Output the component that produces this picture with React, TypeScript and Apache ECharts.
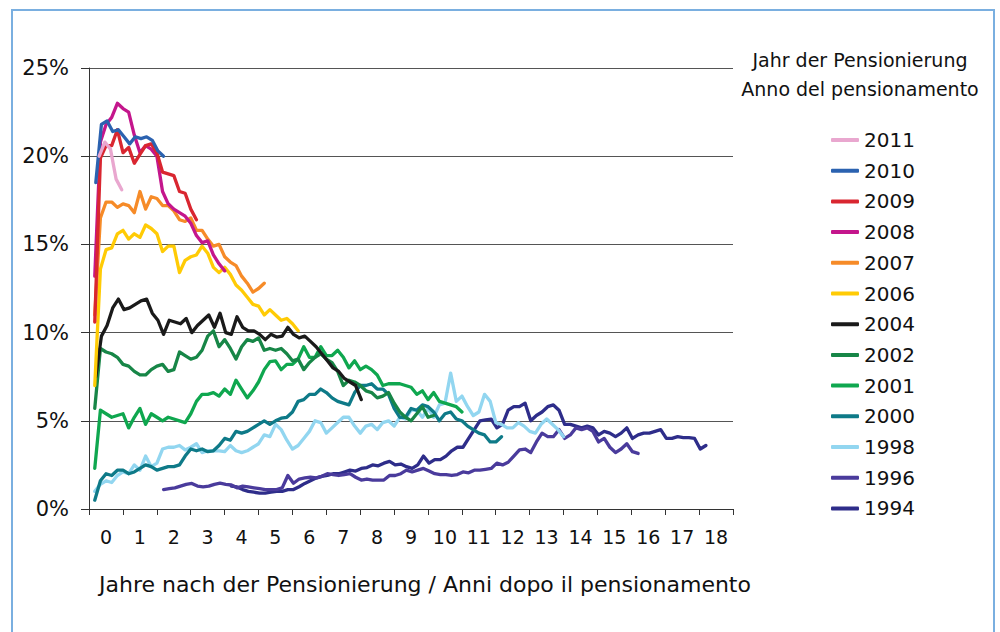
import React, { useEffect, useRef } from 'react';
import * as echarts from 'echarts';

// sampling step of every series, in years after retirement
const STEP = 1 / 6;

const cohorts = ['2011', '2010', '2009', '2008', '2007', '2006', '2004', '2002', '2001', '2000', '1998', '1996', '1994'];
const startYears = [0.3, 0.2, 0.17, 0.17, 0.17, 0.17, 0.2, 0.17, 0.17, 0.17, 0.17, 2.2, 4.2];

const v2011 = [20.0, 20.8, 20.4, 18.7, 18.1];
const v2010 = [18.5, 21.8, 22.0, 21.4, 21.5, 21.1, 20.7, 21.1, 21.0, 21.1, 20.9, 20.3, 20.0];
const v2009 = [10.6, 19.9, 20.6, 20.6, 21.5, 20.2, 20.5, 19.6, 20.1, 20.6, 20.7, 20.2, 19.1, 19.0, 18.9, 18.0, 17.9, 17.0, 16.4];
const v2008 = [13.2, 20.8, 21.8, 22.2, 23.0, 22.7, 22.5, 21.2, 20.2, 20.6, 20.4, 20.0, 18.0, 17.3, 17.0, 16.8, 16.6, 16.2, 15.5, 15.1, 15.2, 14.4, 13.9, 13.5];
const v2007 = [11.0, 16.5, 17.4, 17.4, 17.1, 17.3, 17.2, 16.8, 18.0, 17.0, 17.7, 17.6, 17.2, 17.2, 16.9, 16.4, 16.3, 16.5, 15.8, 15.8, 15.3, 14.9, 15.0, 14.3, 14.0, 13.8, 13.2, 12.8, 12.3, 12.5, 12.8];
const v2006 = [7.0, 13.6, 14.7, 14.8, 15.6, 15.8, 15.3, 15.6, 15.4, 16.1, 15.9, 15.6, 14.6, 14.9, 14.9, 13.4, 14.1, 14.3, 14.4, 14.9, 14.5, 13.7, 13.4, 13.7, 13.3, 12.7, 12.4, 12.0, 11.6, 11.5, 11.0, 11.3, 11.0, 10.7, 10.8, 10.5, 10.1];
const v2004 = [7.5, 9.8, 10.4, 11.4, 11.9, 11.3, 11.4, 11.6, 11.8, 11.9, 11.1, 10.7, 9.9, 10.7, 10.6, 10.5, 10.8, 10.0, 10.4, 10.7, 11.0, 10.3, 11.1, 10.0, 9.9, 10.9, 10.3, 10.1, 10.1, 9.9, 9.6, 9.9, 9.75, 9.8, 10.3, 9.9, 9.7, 9.8, 9.5, 9.2, 8.8, 8.4, 8.0, 7.8, 7.4, 7.2, 7.0, 6.2];
const v2002 = [5.7, 9.1, 8.9, 8.8, 8.6, 8.2, 8.1, 7.8, 7.6, 7.6, 7.9, 8.1, 8.2, 7.8, 7.9, 8.9, 8.7, 8.5, 8.6, 9.0, 9.8, 10.1, 9.2, 9.6, 9.1, 8.5, 9.2, 9.6, 9.5, 9.7, 9.0, 9.1, 9.0, 9.1, 8.8, 8.4, 8.5, 7.9, 8.3, 8.6, 8.8, 8.5, 8.3, 7.8, 7.0, 7.3, 7.2, 7.0, 6.7, 6.6, 6.3, 6.4, 6.6, 6.0, 5.5, 5.2, 5.0, 5.4, 5.8, 5.2, 5.3];
const v2001 = [2.3, 5.6, 5.4, 5.2, 5.3, 5.4, 4.6, 5.2, 5.7, 4.8, 5.4, 5.2, 5.0, 5.2, 5.1, 5.0, 4.9, 5.4, 6.1, 6.5, 6.5, 6.6, 6.4, 6.8, 6.5, 7.3, 6.8, 6.3, 6.7, 7.2, 7.9, 8.35, 8.4, 7.9, 8.2, 8.2, 8.5, 9.2, 8.6, 8.6, 9.2, 8.7, 8.7, 9.0, 8.6, 8.0, 8.4, 7.9, 8.1, 7.9, 7.6, 7.0, 7.1, 7.1, 7.1, 7.0, 6.9, 6.5, 6.7, 6.2, 6.6, 6.1, 6.0, 5.9, 5.8, 5.5];
const v2000 = [0.5, 1.6, 2.0, 1.9, 2.2, 2.2, 2.0, 2.1, 2.3, 2.5, 2.4, 2.2, 2.3, 2.4, 2.4, 2.5, 3.0, 3.4, 3.3, 3.4, 3.25, 3.3, 3.6, 4.0, 3.9, 4.4, 4.3, 4.4, 4.6, 4.8, 5.0, 4.8, 5.0, 5.15, 5.2, 5.5, 6.1, 6.2, 6.5, 6.5, 6.8, 6.6, 6.3, 6.1, 6.0, 5.9, 6.6, 7.0, 7.0, 7.1, 6.8, 6.8, 6.5, 5.7, 5.2, 5.2, 5.7, 5.6, 5.9, 5.8, 5.5, 5.0, 5.4, 5.5, 5.1, 5.0, 4.7, 4.5, 4.3, 4.2, 3.8, 3.8, 4.1];
const v1998 = [1.0, 1.4, 1.6, 1.5, 1.9, 2.1, 2.0, 2.5, 2.2, 3.0, 2.4, 2.6, 3.4, 3.5, 3.5, 3.6, 3.35, 3.5, 3.7, 3.2, 3.3, 3.3, 3.3, 3.25, 3.6, 3.3, 3.2, 3.3, 3.5, 3.7, 4.2, 4.1, 4.8, 4.5, 3.9, 3.4, 3.6, 4.0, 4.4, 5.0, 4.9, 4.3, 4.6, 4.9, 5.2, 5.2, 4.7, 4.3, 4.7, 4.8, 4.5, 4.9, 5.0, 4.7, 5.2, 5.1, 5.6, 5.6, 5.2, 5.7, 5.2, 5.9, 6.0, 7.7, 6.1, 6.4, 5.8, 5.3, 5.5, 6.5, 6.1, 4.9, 4.8, 4.6, 4.6, 4.9, 4.7, 4.4, 4.3, 4.8, 5.1, 4.8, 4.5, 4.1];
const v1996 = [1.1, 1.15, 1.2, 1.3, 1.4, 1.45, 1.3, 1.26, 1.3, 1.4, 1.46, 1.4, 1.36, 1.2, 1.3, 1.25, 1.2, 1.15, 1.1, 1.1, 1.1, 1.2, 1.9, 1.46, 1.7, 1.76, 1.8, 1.77, 1.85, 2.0, 1.95, 1.9, 1.95, 2.0, 1.8, 1.64, 1.7, 1.64, 1.64, 1.64, 1.9, 1.9, 2.0, 2.2, 2.1, 2.2, 2.3, 2.15, 2.0, 1.95, 1.95, 1.9, 1.95, 2.1, 2.05, 2.2, 2.2, 2.25, 2.3, 2.6, 2.5, 2.65, 3.0, 3.35, 3.4, 3.2, 3.8, 4.3, 4.1, 4.1, 4.5, 4.0, 4.2, 4.6, 4.5, 4.6, 4.4, 3.8, 4.0, 3.5, 3.2, 3.4, 3.7, 3.25, 3.15];
const v1994 = [1.3, 1.25, 1.1, 1.0, 0.95, 0.9, 0.9, 0.95, 1.0, 1.0, 1.1, 1.1, 1.26, 1.45, 1.6, 1.75, 1.85, 1.9, 2.0, 2.0, 2.1, 2.2, 2.15, 2.3, 2.35, 2.5, 2.45, 2.6, 2.7, 2.5, 2.55, 2.4, 2.3, 2.5, 3.0, 2.6, 2.8, 2.8, 3.0, 3.3, 3.5, 3.5, 4.0, 4.5, 5.0, 5.05, 5.1, 4.6, 4.8, 5.6, 5.8, 5.8, 6.0, 5.0, 5.3, 5.5, 5.8, 5.9, 5.6, 4.8, 4.8, 4.7, 4.6, 4.7, 4.6, 4.2, 4.4, 4.3, 4.1, 4.3, 4.6, 4.0, 4.2, 4.3, 4.3, 4.4, 4.5, 4.0, 4.0, 4.1, 4.05, 4.05, 4.0, 3.4, 3.6];

const valueLists = [v2011, v2010, v2009, v2008, v2007, v2006, v2004, v2002, v2001, v2000, v1998, v1996, v1994];

const xTickLabels = ['0', '1', '2', '3', '4', '5', '6', '7', '8', '9', '10', '11', '12', '13', '14', '15', '16', '17', '18'];

const legendTitle1 = 'Jahr der Pensionierung';
const legendTitle2 = 'Anno del pensionamento';
const xAxisTitle = 'Jahre nach der Pensionierung / Anni dopo il pensionamento';

const colors = ['#e9a7cf', '#2b62b0', '#d92630', '#c4168c', '#f68b28', '#ffcb05', '#1a1a1a', '#178647', '#0fa74f', '#0e7a88', '#92d6f0', '#4a3b9c', '#2e2d8a'];

const FONT = '"DejaVu Sans", "Open Sans", sans-serif';

export default function App() {
  const ref = useRef<HTMLDivElement>(null);

  useEffect(() => {
    document.body.style.margin = '0';
    const chart = echarts.init(ref.current as HTMLDivElement, null, { renderer: 'svg' });

    const series = cohorts
      .map((name, i) => ({
        name,
        type: 'line',
        xAxisIndex: 0,
        yAxisIndex: 0,
        symbol: 'none',
        showSymbol: false,
        smooth: false,
        data: valueLists[i].map((v, k) => [startYears[i] + k * STEP, v]),
        itemStyle: { color: colors[i] },
        lineStyle: { color: colors[i], width: 3.3, cap: 'round', join: 'round' },
      }))
      .reverse();

    chart.setOption({
      animation: false,
      backgroundColor: '#ffffff',
      grid: { left: 89, top: 68, width: 644, height: 441, containLabel: false },
      xAxis: [
        {
          type: 'value',
          position: 'bottom',
          min: 0,
          max: 19,
          interval: 1,
          axisLine: { show: true, lineStyle: { color: '#333', width: 1 } },
          axisTick: { show: true, length: 6, lineStyle: { color: '#333', width: 1 } },
          axisLabel: { show: false },
          splitLine: { show: false },
        },
        {
          type: 'category',
          position: 'bottom',
          data: xTickLabels,
          boundaryGap: true,
          axisLine: { show: false },
          axisTick: { show: false },
          axisLabel: { interval: 0, fontFamily: FONT, fontSize: 19, color: '#111', margin: 18 },
          splitLine: { show: false },
        },
      ],
      yAxis: {
        type: 'value',
        min: 0,
        max: 25,
        interval: 5,
        axisLine: { show: true, lineStyle: { color: '#333', width: 1 } },
        axisTick: { show: true, length: 8, lineStyle: { color: '#333', width: 1 } },
        axisLabel: { formatter: '{value}%', fontFamily: FONT, fontSize: 21, color: '#111', margin: 20 },
        splitLine: { show: true, lineStyle: { color: '#555', width: 1 } },
      },
      legend: {
        orient: 'vertical',
        left: 826,
        top: 125,
        itemWidth: 28,
        itemHeight: 4,
        itemGap: 10.7,
        icon: 'roundRect',
        data: cohorts,
        textStyle: { fontFamily: FONT, fontSize: 20, color: '#111', lineHeight: 20 },
      },
      graphic: [
        {
          type: 'rect',
          silent: true,
          shape: { x: 12, y: 10, width: 982, height: 640 },
          style: { fill: 'none', stroke: '#7aafe0', lineWidth: 2 },
        },
        {
          type: 'text',
          x: 860,
          y: 60,
          style: { text: legendTitle1, align: 'center', verticalAlign: 'middle', fontFamily: FONT, fontSize: 19, fill: '#111' },
        },
        {
          type: 'text',
          x: 860,
          y: 89,
          style: { text: legendTitle2, align: 'center', verticalAlign: 'middle', fontFamily: FONT, fontSize: 19, fill: '#111' },
        },
        {
          type: 'text',
          x: 425,
          y: 584,
          style: { text: xAxisTitle, align: 'center', verticalAlign: 'middle', fontFamily: FONT, fontSize: 22, fill: '#111' },
        },
      ],
      series,
    });

    return () => chart.dispose();
  }, []);

  return <div ref={ref} style={{ position: 'fixed', left: 0, top: 0, width: 1000, height: 632 }} />;
}
